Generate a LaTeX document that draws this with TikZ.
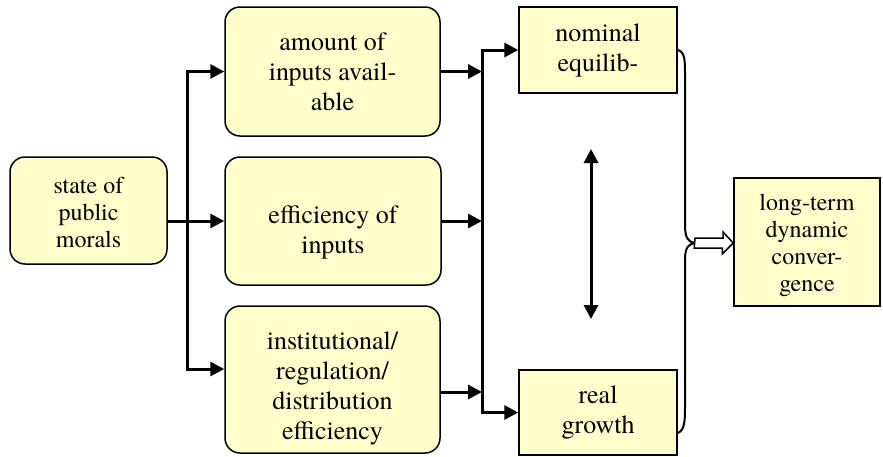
\documentclass[tikz,border=0pt]{standalone}
\usepackage{fontspec}
\setmainfont{TeX Gyre Termes}
\usetikzlibrary{arrows.meta}
\definecolor{boxfill}{HTML}{FFFFCC}
\newcommand{\pushdown}[1]{\rule{0pt}{#1}}
\tikzset{
  box/.style={draw=black, fill=boxfill, line width=1.5pt, align=center, inner sep=0pt,
    font=\fontsize{26}{30}\selectfont},
  rbox/.style={box, rounded corners=15pt},
  sbox/.style={box, font=\fontsize{24}{27}\selectfont},
  conn/.style={line width=3pt},
  arr/.style={conn, -{Triangle[length=14pt,width=14pt]}},
  dbl/.style={line width=3pt, {Triangle[length=14pt,width=14pt]}-{Triangle[length=14pt,width=14pt]}},
  curve/.style={line width=2pt},
}
\begin{document}
\begin{tikzpicture}[x=1pt,y=-1pt]
\useasboundingbox (0,0) rectangle (883,456);
\node[rbox, font=\fontsize{24}{27}\selectfont, minimum width=157pt, minimum height=107pt] (state) at (88.5,210.5) {\pushdown{21pt}state of\\public\\morals};
\node[rbox, minimum width=215pt, minimum height=129pt] (amount) at (332.5,71.5) {amount of\\inputs avail-\\able};
\node[rbox, minimum width=216pt, minimum height=128pt] (eff) at (333,221) {\pushdown{40pt}efficiency of\\inputs};
\node[rbox, minimum width=215pt, minimum height=147pt] (inst) at (332.5,379.5) {\pushdown{36pt}institutional/\\regulation/\\distribution\\efficiency};
\node[box, minimum width=158pt, minimum height=86pt] (nominal) at (598,50) {nominal\\equilib-};
\node[box, minimum width=158pt, minimum height=85pt] (real) at (598,412.5) {real\\growth};
\node[sbox, minimum width=146pt, minimum height=128pt] (long) at (807,242) {\pushdown{23pt}long-term\\dynamic\\conver-\\gence};

% left branching
\coordinate (ja) at (187,71.5);
\coordinate (jc) at (187,369);
\draw[conn] (ja) -- (jc);
\draw[arr] (state.east |- eff.west) -- (eff.west);
\draw[arr] ([xshift=-1.5pt]ja) -- (amount.west);
\draw[arr] ([xshift=-1.5pt]jc) -- (inst.west |- jc);

% right collecting
\coordinate (ka) at (482,50);
\coordinate (kb) at (482,412.5);
\coordinate (ki) at (482,392);
\draw[conn] (ka) -- (kb);
\draw[arr] (amount.east) -- (amount.east -| ka);
\draw[arr] (eff.east) -- (eff.east -| ka);
\draw[arr] (inst.east |- ki) -- (ki);
\draw[arr] ([xshift=-1.5pt]ka) -- (nominal.west);
\draw[arr] ([xshift=-1.5pt]kb) -- (real.west);

% double arrow
\coordinate (da) at (591,149);
\coordinate (db) at (591,319);
\draw[dbl] (da) -- (db);

% brackets
\coordinate (m) at (695,243);
\draw[curve] (nominal.east) .. controls (685,52) and (685,60) .. (685,75) -- (685,225) .. controls (685,238) and (688,242) .. (m);
\draw[curve] (real.east |- 0,433) .. controls (685,430) and (685,420) .. (685,405) -- (685,260) .. controls (685,248) and (688,244) .. (m);

% block arrow
\draw[fill=white, line width=1.5pt, line join=miter]
  (m) ++(0,-5) -- ++(28,0) -- ++(0,-6) -- (long.west |- m) -- ++(-11,11) -- ++(0,-6) -- ++(-28,0) -- cycle;
\end{tikzpicture}
\end{document}
